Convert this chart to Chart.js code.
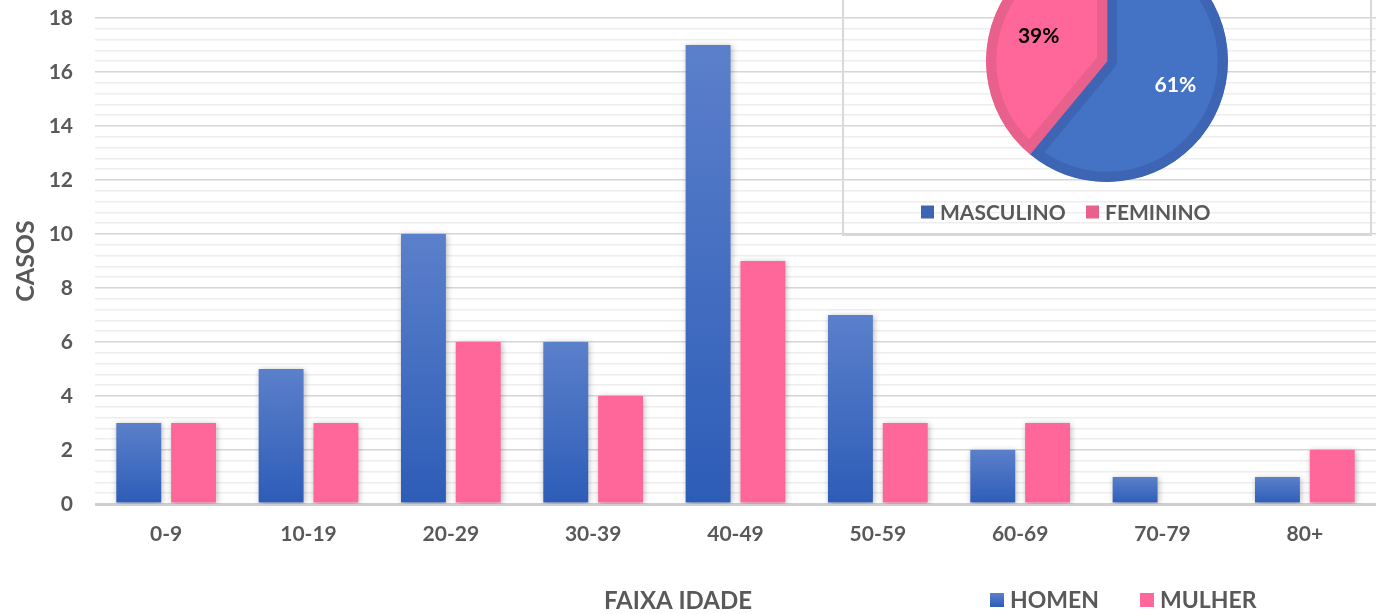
<!DOCTYPE html>
<html>
<head>
<meta charset="utf-8">
<script src="https://cdn.jsdelivr.net/npm/chart.js@4.4.1/dist/chart.umd.min.js"></script>
<style>
  html, body { margin: 0; padding: 0; background: #ffffff; overflow: hidden; }
  #wrap { position: relative; width: 1381px; height: 614px; overflow: hidden; }
  #bar { position: absolute; left: 0; top: 0; }
  #pieBox { position: absolute; left: 842px; top: -70px; width: 526px; height: 302px; border: 2px solid #D9D9D9; }
  #pie { position: absolute; left: 842px; top: -70px; }
</style>
</head>
<body>
<div id="wrap">
  <canvas id="bar" width="1381" height="614"></canvas>
  <div id="pieBox"></div>
  <canvas id="pie" width="528" height="304"></canvas>
</div>
<script>
// ---- data ----
const ageGroups = ['0-9', '10-19', '20-29', '30-39', '40-49', '50-59', '60-69', '70-79', '80+'];
const homenCases = [3, 5, 10, 6, 17, 7, 2, 1, 1];
const mulherCases = [3, 3, 6, 4, 9, 3, 3, 0, 2];
const seriesNames = ['HOMEN', 'MULHER'];
const yTickLabels = ['0', '2', '4', '6', '8', '10', '12', '14', '16', '18'];
const sexLabels = ['MASCULINO', 'FEMININO'];
const sexPercent = [61, 39];

const TEXT = '#595959';
const FONT = 'Lato, "Open Sans", "DejaVu Sans", sans-serif';
const BLUE_TOP = '#5B80CB', BLUE_BOT = '#2D5CB7', PINK = '#FF6699';

function isMajor(v) { return Math.abs(v / 2 - Math.round(v / 2)) < 1e-6; }

function blueGradient(ctx, top, bottom) {
  const g = ctx.createLinearGradient(0, top, 0, bottom);
  g.addColorStop(0, BLUE_TOP);
  g.addColorStop(1, BLUE_BOT);
  return g;
}

// legend drawn at fixed place, labels and colours taken from the chart
const fixedLegend = {
  id: 'fixedLegend',
  afterDraw(chart, args, opts) {
    const ctx = chart.ctx;
    ctx.save();
    ctx.font = 'bold ' + opts.fontSize + 'px ' + FONT;
    ctx.textBaseline = 'middle';
    ctx.textAlign = 'left';
    opts.items.forEach((it, i) => {
      const s = opts.box;
      const top = opts.y - s / 2;
      let fill = it.color;
      if (it.gradient) fill = blueGradient(ctx, top, top + s);
      ctx.fillStyle = fill;
      ctx.fillRect(it.boxX, top, s, s);
      ctx.fillStyle = TEXT;
      ctx.fillText(it.text, it.boxX + s + opts.gap, opts.y + 1);
    });
    ctx.restore();
  }
};

const xTitle = {
  id: 'xTitle',
  afterDraw(chart, args, opts) {
    const ctx = chart.ctx;
    ctx.save();
    ctx.font = 'bold ' + opts.fontSize + 'px ' + FONT;
    ctx.fillStyle = TEXT;
    ctx.textAlign = 'center';
    ctx.textBaseline = 'middle';
    ctx.fillText(opts.text, opts.x, opts.y);
    ctx.restore();
  }
};

const barShadow = {
  id: 'barShadow',
  beforeDatasetsDraw(chart) {
    const ctx = chart.ctx;
    ctx.save();
    ctx.shadowColor = 'rgba(0,0,0,0.28)';
    ctx.shadowBlur = 6;
    ctx.shadowOffsetX = 1;
    ctx.shadowOffsetY = 1;
  },
  afterDatasetsDraw(chart) { chart.ctx.restore(); }
};

new Chart(document.getElementById('bar'), {
  type: 'bar',
  data: {
    labels: ageGroups,
    datasets: [
      {
        label: seriesNames[0],
        data: homenCases,
        backgroundColor: (c) => {
          const chart = c.chart;
          if (!chart.chartArea || c.type !== 'data' || !chart.scales.y) return '#4472C4';
          const y = chart.scales.y;
          const top = y.getPixelForValue(c.parsed.y);
          const bottom = y.getPixelForValue(0);
          if (!(bottom > top)) return '#4472C4';
          return blueGradient(chart.ctx, top, bottom);
        },
        borderWidth: 0,
        categoryPercentage: 0.77,
        barPercentage: 0.82
      },
      {
        label: seriesNames[1],
        data: mulherCases,
        backgroundColor: PINK,
        borderWidth: 0,
        categoryPercentage: 0.77,
        barPercentage: 0.82
      }
    ]
  },
  options: {
    responsive: false,
    animation: false,
    events: [],
    layout: { padding: { top: 18, left: 0, right: 5, bottom: 0 } },
    plugins: {
      legend: { display: false },
      tooltip: { enabled: false },
      fixedLegend: {
        fontSize: 23, box: 14, gap: 6, y: 600,
        items: [
          { text: seriesNames[0], gradient: true, boxX: 990 },
          { text: seriesNames[1], color: PINK, boxX: 1140 }
        ]
      },
      xTitle: { text: 'FAIXA IDADE', fontSize: 24, x: 678, y: 601 }
    },
    scales: {
      x: {
        grid: { display: false, drawTicks: false },
        border: { display: false },
        ticks: { color: TEXT, font: { family: FONT, size: 21, weight: 'bold' }, padding: 18, maxRotation: 0 },
        afterFit(scale) { scale.height = 110; }
      },
      y: {
        min: 0, max: 18,
        border: { display: false },
        grid: {
          drawTicks: false,
          color: (c) => {
            const v = c.tick ? c.tick.value : 0;
            if (Math.abs(v) < 1e-6) return '#CFCFCF';
            return isMajor(v) ? '#D6D6D6' : '#EEEEEE';
          },
          lineWidth: (c) => {
            const v = c.tick ? c.tick.value : 0;
            if (Math.abs(v) < 1e-6) return 3;
            return isMajor(v) ? 1.6 : 1.5;
          }
        },
        ticks: {
          stepSize: 0.4,
          autoSkip: false,
          color: TEXT,
          padding: 22,
          font: { family: FONT, size: 21, weight: 'bold' },
          callback: (v) => {
            if (!isMajor(v)) return '';
            const idx = Math.round(v / 2);
            return yTickLabels[idx] !== undefined ? yTickLabels[idx] : '';
          }
        },
        title: {
          display: true, text: 'CASOS', color: TEXT,
          font: { family: FONT, size: 25, weight: 'bold' },
          padding: { top: 11, bottom: 0 }
        },
        afterFit(scale) {
          scale.width = 95;
          scale.paddingTop = 0;
          scale.paddingBottom = 0;
        }
      }
    }
  },
  plugins: [barShadow, fixedLegend, xTitle]
});

// ---- pie ----
const pieLabels = {
  id: 'pieLabels',
  afterDatasetsDraw(chart, args, opts) {
    const ctx = chart.ctx;
    const meta = chart.getDatasetMeta(0);
    ctx.save();
    ctx.font = 'bold ' + opts.fontSize + 'px ' + FONT;
    ctx.textAlign = 'center';
    ctx.textBaseline = 'middle';
    meta.data.forEach((arc, i) => {
      const p = arc.getProps(['x', 'y', 'startAngle', 'endAngle', 'outerRadius'], true);
      const mid = (p.startAngle + p.endAngle) / 2;
      const r = p.outerRadius * 0.6;
      ctx.fillStyle = opts.colors[i];
      ctx.fillText(chart.data.datasets[0].data[i] + '%', p.x + Math.cos(mid) * r, p.y + Math.sin(mid) * r);
    });
    ctx.restore();
  }
};

new Chart(document.getElementById('pie'), {
  type: 'pie',
  data: {
    labels: sexLabels,
    datasets: [{
      data: sexPercent,
      backgroundColor: ['#4472C4', '#FF6699'],
      borderColor: ['#3D65B3', '#E8608C'],
      borderWidth: 10,
      borderAlign: 'inner',
      radius: 121,
      hoverOffset: 0
    }]
  },
  options: {
    responsive: false,
    animation: false,
    events: [],
    layout: { padding: { left: 144, right: 142, top: 10, bottom: 52 } },
    plugins: {
      legend: { display: false },
      tooltip: { enabled: false },
      pieLabels: { fontSize: 21, colors: ['#FFFFFF', '#000000'] },
      fixedLegend: {
        fontSize: 21, box: 13, gap: 6, y: 282,
        items: [
          { text: sexLabels[0], color: '#3D65B3', boxX: 921 - 842 },
          { text: sexLabels[1], color: '#E8608C', boxX: 1086 - 842 }
        ]
      }
    }
  },
  plugins: [pieLabels, fixedLegend]
});
</script>
</body>
</html>
